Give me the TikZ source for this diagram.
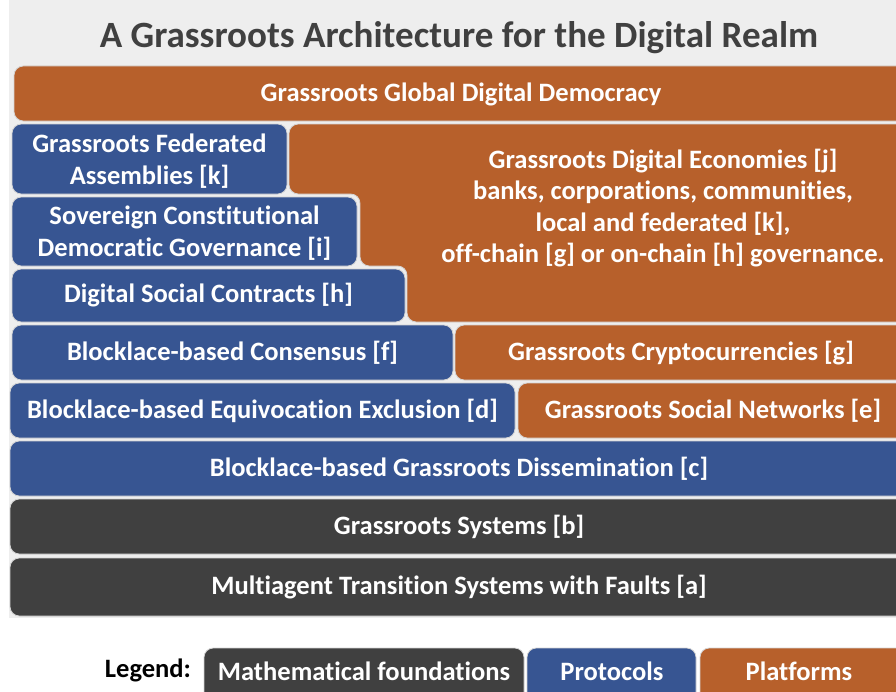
\documentclass[tikz,border=0pt]{standalone}
\usepackage{fontspec}
\setmainfont{Carlito}[Ligatures=NoCommon]
\usetikzlibrary{fit}
\definecolor{bgpanel}{HTML}{EEEEEE}
\definecolor{orng}{HTML}{B7602B}
\definecolor{blu}{HTML}{375592}
\definecolor{drk}{HTML}{404040}
\definecolor{edgec}{HTML}{D4D4D4}
\newcommand{\bxfont}{\fontsize{19.9pt}{24pt}\selectfont\bfseries}
\newcommand{\ttlfont}{\fontsize{27.8pt}{32pt}\selectfont\bfseries}
\begin{document}
\begin{tikzpicture}[x=0.75pt,y=-0.75pt,
  box/.style={rounded corners=7pt, draw=edgec, line width=0.6pt, inner sep=0pt},
  obox/.style={box, fill=orng},
  bbox/.style={box, fill=blu},
  dbox/.style={box, fill=drk},
  lbl/.style={text=white, font=\bxfont, align=center, inner sep=0pt}
]
\useasboundingbox (0,0) rectangle (896,692);
\clip (0,0) rectangle (896,692);
\fill[bgpanel] (9,0) rectangle (896,618);

\node[text=drk, font=\ttlfont, inner sep=0pt] (title) at (459,38) {A Grassroots Architecture for the Digital Realm};

\node[obox, fit={(14,66) (908,121)}] (gdd) {};
\node[lbl] (gddl) at (461,94) {Grassroots Global Digital Democracy};

\node[bbox, fit={(12,124) (287,194)}] (gfa) {};
\node[lbl] (gfal) at ([yshift=-1.5pt]gfa.center) {Grassroots Federated\\Assemblies [k]};
\draw[fill=orng, draw=edgec, line width=0.6pt, rounded corners=7pt]
  (289,124) -- (908,124) -- (908,322) -- (407,322) -- (407,266) -- (360,266) -- (360,194) -- (289,194) -- cycle;
\node[lbl, font=\fontsize{19.9pt}{23.5pt}\selectfont\bfseries] (gde) at (663,208) {Grassroots Digital Economies [j]\\banks, corporations, communities,\\local and federated [k],\\off-chain [g] or on-chain [h] governance.};

\node[bbox, fit={(12,197) (357,266)}] (sov) {};
\node[lbl] (sovl) at ([yshift=-1.5pt]sov.center) {Sovereign Constitutional\\Democratic Governance [i]};
\node[bbox, fit={(12,269) (405,322)}] (dsc) {};
\node[lbl] (dscl) at (dsc) {Digital Social Contracts [h]};

\node[bbox, fit={(12,325) (453,380)}] (cons) {};
\node[lbl] (consl) at (cons) {Blocklace-based Consensus [f]};
\node[obox, fit={(455,325) (908,380)}] (crypto) {};
\node[lbl] (cryptol) at (681,353) {Grassroots Cryptocurrencies [g]};

\node[bbox, fit={(10,383) (515,438)}] (equiv) {};
\node[lbl] (equivl) at (equiv) {Blocklace-based Equivocation Exclusion [d]};
\node[obox, fit={(518,383) (908,438)}] (sn) {};
\node[lbl] (snl) at (713,411) {Grassroots Social Networks [e]};

\node[bbox, fit={(10,441) (908,496)}] (diss) {};
\node[lbl] (dissl) at (diss) {Blocklace-based Grassroots Dissemination [c]};
\node[dbox, fit={(10,499) (908,554)}] (gs) {};
\node[lbl] (gsl) at (gs) {Grassroots Systems [b]};
\node[dbox, fit={(10,558) (908,616)}] (mas) {};
\node[lbl] (masl) at (mas) {Multiagent Transition Systems with Faults [a]};

\node[text=black, font=\bxfont, inner sep=0pt] (leg) at (148,670) {Legend:};
\node[dbox, fit={(204,648) (524,705)}] (lgm) {};
\node[bbox, fit={(527,648) (696,705)}] (lgp) {};
\node[obox, fit={(700,648) (908,705)}] (lgf) {};
\node[lbl] (lgml) at (364,671) {Mathematical foundations};
\node[lbl] (lgpl) at (612,671) {Protocols};
\node[lbl] (lgfl) at (799,671) {Platforms};
\end{tikzpicture}
\end{document}
